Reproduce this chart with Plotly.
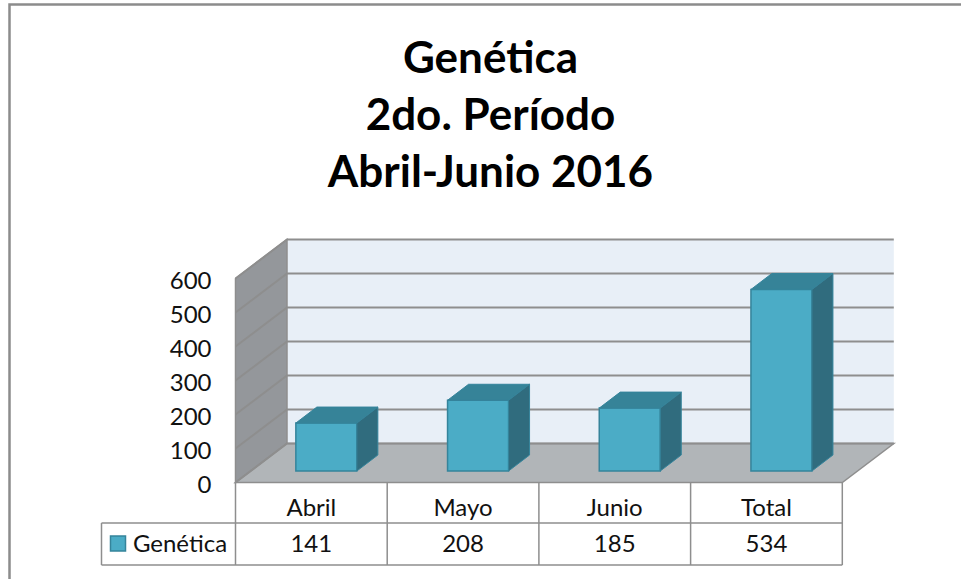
import plotly.graph_objects as go

# ---- data ----
categories = ["Abril", "Mayo", "Junio", "Total"]
values = [141, 208, 185, 534]
series_name = "Genética"
y_ticks = [0, 100, 200, 300, 400, 500, 600]
title_lines = ["Genética", "2do. Período", "Abril-Junio 2016"]

# ---- styles / projection (oblique 3D, in axis units) ----
W, H = 961, 579
FONT = "Lato"
TEXT_SIZE = 24
PX_X = 151.7            # px per category
PX_Y = 0.34             # px per value unit
X0, Y0 = 235.5, 482.5   # pixel location of category 0 / value 0
WALL_DX, WALL_DY = 51.5 / PX_X, 39 / PX_Y
BAR_DX, BAR_DY = 21 / PX_X, 16 / PX_Y
BAR_SHIFT_X, BAR_SHIFT_Y = 15 / PX_X, 11.5 / PX_Y
BAR_W = 61 / PX_X
YMAX = y_ticks[-1]
NCAT = len(categories)
GRID = "#8e8e8e"
FRAME = "#8c8c8c"
INK = "#111111"

x_range = [-X0 / PX_X, (W - X0) / PX_X]
y_range = [-(H - Y0) / PX_Y, Y0 / PX_Y]

fig = go.Figure()
shapes = []


def wall(xs, ys, fill=None, line=None, width=1.5):
    path = "M " + " L ".join(f"{a},{b}" for a, b in zip(xs, ys))
    if fill:
        path += " Z"
    shapes.append(dict(type="path", path=path, xref="x", yref="y", layer="below",
                       fillcolor=fill or "rgba(0,0,0,0)",
                       line=dict(color=line or "rgba(0,0,0,0)", width=width)))


def face(xs, ys, fill, line):
    fig.add_trace(go.Scatter(x=xs, y=ys, mode="lines", fill="toself", fillcolor=fill,
                             hoverinfo="skip", showlegend=False,
                             line=dict(color=line, width=1)))


# chart frame (left and top edges)
shapes.append(dict(type="path", xref="paper", yref="paper", layer="below",
                   path=f"M {9.5 / W},0 L {9.5 / W},{1 - 4.5 / H} L 1,{1 - 4.5 / H}",
                   line=dict(color=FRAME, width=2.5)))

# back wall, side wall, floor
wall([WALL_DX, NCAT + WALL_DX, NCAT + WALL_DX, WALL_DX],
     [WALL_DY, WALL_DY, YMAX + WALL_DY, YMAX + WALL_DY], "#e8eff7")
wall([0, WALL_DX, WALL_DX, 0], [0, WALL_DY, YMAX + WALL_DY, YMAX], "#94979b", GRID)
wall([0, NCAT, NCAT + WALL_DX, WALL_DX], [0, 0, WALL_DY, WALL_DY], "#b1b5b8", GRID)

# gridlines on both walls
for t in y_ticks:
    wall([0, WALL_DX, NCAT + WALL_DX], [t, t + WALL_DY, t + WALL_DY], None, GRID, 2)

# data table grid
ROW1, ROW2 = -40.5 / PX_Y, -82.5 / PX_Y
LEG = -134 / PX_X
for x0, y0, x1, y1 in [(0, 0, 0, ROW2), (LEG, ROW1, NCAT, ROW1), (LEG, ROW2, NCAT, ROW2),
                       (LEG, ROW1, LEG, ROW2)] + [(i, 0, i, ROW2) for i in range(1, NCAT + 1)]:
    wall([x0, x1], [y0, y1], None, GRID, 1.5)

# bars: front face through the library's bar trace, top and side faces from the values
fig.add_trace(go.Bar(
    x=[i + 0.5 + BAR_SHIFT_X for i in range(NCAT)], y=values, base=BAR_SHIFT_Y,
    width=BAR_W, name=series_name, showlegend=False,
    marker=dict(color="#4bacc6", line=dict(color="#35849b", width=1.5)),
    hoverinfo="skip"))
for i, v in enumerate(values):
    xl = i + 0.5 + BAR_SHIFT_X - BAR_W / 2
    xr = xl + BAR_W
    b, t = BAR_SHIFT_Y, BAR_SHIFT_Y + v
    face([xl, xr, xr + BAR_DX, xl + BAR_DX, xl],
         [t, t, t + BAR_DY, t + BAR_DY, t], "#368398", "#35849b")
    face([xr, xr + BAR_DX, xr + BAR_DX, xr, xr],
         [b, b + BAR_DY, t + BAR_DY, t, b], "#306c7e", "#35849b")

# table rows: categories and values
row_font = dict(family=FONT, size=TEXT_SIZE, color=INK)
text_y2 = (ROW1 + ROW2) / 2 - 2 / PX_Y
fig.add_trace(go.Scatter(
    x=[i + 0.5 for i in range(NCAT)], y=[ROW1 * 0.67] * NCAT,
    mode="text", text=categories, showlegend=False, hoverinfo="skip",
    textposition="middle center", textfont=row_font))
fig.add_trace(go.Scatter(
    x=[i + 0.5 for i in range(NCAT)], y=[text_y2] * NCAT,
    mode="text", text=[str(v) for v in values], showlegend=False, hoverinfo="skip",
    textposition="middle center", textfont=row_font))

# series key in the table
fig.add_trace(go.Scatter(
    x=[-117.5 / PX_X], y=[(ROW1 + ROW2) / 2 + 0.5 / PX_Y], mode="markers", showlegend=False,
    hoverinfo="skip",
    marker=dict(symbol="square", size=15, color="#4bacc6",
                line=dict(color="#35849b", width=1.5))))
fig.add_trace(go.Scatter(
    x=[-55.5 / PX_X], y=[text_y2], mode="text", text=[series_name],
    textposition="middle center", textfont=row_font, showlegend=False, hoverinfo="skip"))

fig.update_layout(
    width=W, height=H, autosize=False,
    margin=dict(l=0, r=0, t=0, b=0),
    paper_bgcolor="white", plot_bgcolor="white",
    barmode="overlay", showlegend=False,
    font=dict(family=FONT, color=INK),
    shapes=shapes,
    title=dict(text="<br>".join(f"<b>{s}</b>" for s in title_lines),
               x=490.5 / W, xanchor="center", y=1 - 73 / H, yanchor="top",
               font=dict(family=FONT, size=44, color="#000000")),
    xaxis=dict(range=x_range, domain=[0, 1], visible=False, fixedrange=True),
    yaxis=dict(range=y_range, domain=[0, 1], anchor="free", position=(X0 - 24) / W,
               tickvals=y_ticks, ticktext=[str(t) for t in y_ticks],
               tickfont=dict(family=FONT, size=TEXT_SIZE, color=INK),
               ticklabelshift=2,
               showgrid=False, zeroline=False, showline=False, ticks="",
               fixedrange=True),
)

fig.write_html("out.html", config={"displayModeBar": False},
               post_script="document.body.style.margin='0';")
